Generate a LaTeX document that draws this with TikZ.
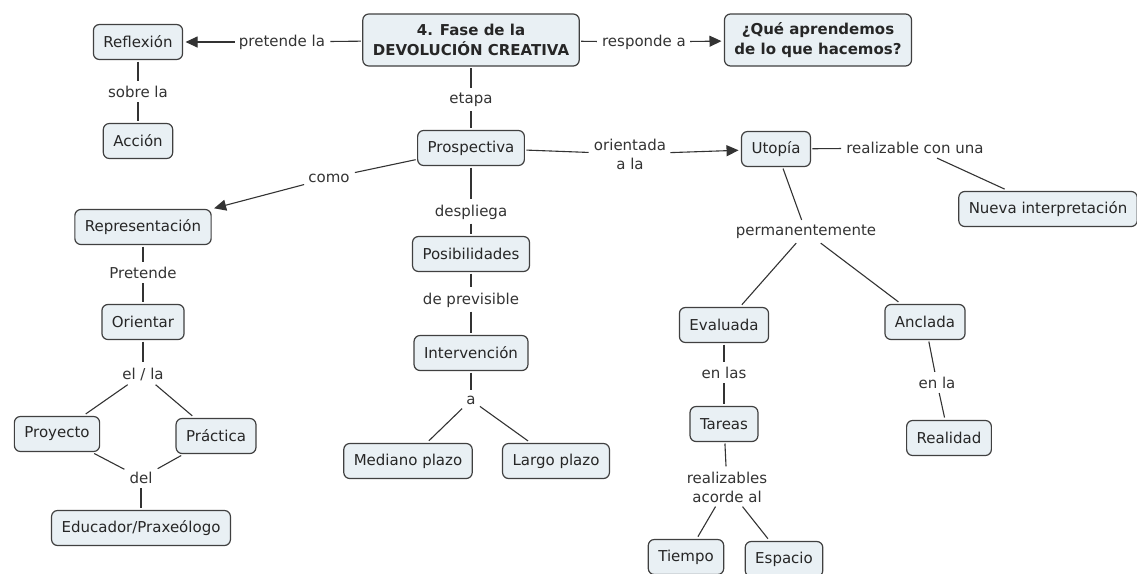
\documentclass[tikz,border=0pt]{standalone}
\usepackage{xcolor}
\usepackage{fontspec}
\setmainfont{DejaVu Sans}
\usepackage{tikz}
\usetikzlibrary{arrows.meta}
\usetikzlibrary{positioning}
\definecolor{conceptfill}{RGB}{233,240,244}

\begin{document}
\begin{tikzpicture}[x=1pt,y=-1pt,>={Triangle[length=12pt,width=11pt]},shorten >=1pt,
                    semithick]
 \tikzstyle{concept}=[draw=black!75, fill=conceptfill, text=black!85, shape=rectangle, rounded corners=6pt, line width=1.2pt, inner xsep=10pt, minimum height=35pt, outer sep=2pt, align=center, font=\fontsize{15}{19}\selectfont]
 \tikzstyle{link}=[text=black!80, inner sep=4pt, align=center, font=\fontsize{15}{19}\selectfont]
 \tikzstyle{every edge}=[draw, black!80, line width=1.1pt]
  \useasboundingbox (0,0) rectangle (1137,573);
  % concepts
  \node[concept] (A) at (471,40) [font=\fontsize{15}{20}\selectfont\bfseries, minimum height=52pt] {4. Fase de la\\DEVOLUCIÓN CREATIVA};
  \node[concept] (B) at (138,42) {Reflexión};
  \node[concept] (C) at (138,141) {Acción};
  \node[concept] (D) at (818,40) [font=\fontsize{15}{20}\selectfont\bfseries, minimum height=52pt] {¿Qué aprendemos\\de lo que hacemos?};
  \node[concept] (E) at (471,148) {Prospectiva};
  \node[concept] (F) at (776,149) {Utopía};
  \node[concept] (G) at (1048,209) {Nueva interpretación};
  \node[concept] (H) at (143,227) {Representación};
  \node[concept] (I) at (143,322) {Orientar};
  \node[concept] (J) at (57,434) {Proyecto};
  \node[concept] (K) at (216,436) {Práctica};
  \node[concept] (L) at (141,528) {Educador/Praxeólogo};
  \node[concept] (M) at (471,254) {Posibilidades};
  \node[concept] (N) at (471,353) {Intervención};
  \node[concept] (O) at (408,461) {Mediano plazo};
  \node[concept] (P) at (556,461) {Largo plazo};
  \node[concept] (Q) at (724,325) {Evaluada};
  \node[concept] (R) at (724,424) {Tareas};
  \node[concept] (S) at (686,557) {Tiempo};
  \node[concept] (T) at (784,559) {Espacio};
  \node[concept] (U) at (925,322) {Anclada};
  \node[concept] (V) at (949,438) {Realidad};
  % linking phrases
  \node[link] (a) at (282,42) {pretende la};
  \node[link] (b) at (644,42) {responde a};
  \node[link] (c) at (138,92) {sobre la};
  \node[link] (d) at (471,100) {etapa};
  \node[link] (e) at (630,154) {orientada\\a la};
  \node[link] (f) at (915,148) {realizable con una};
  \node[link] (g) at (806,232) {permanentemente};
  \node[link] (h) at (329,178) {como};
  \node[link] (i) at (471,212) {despliega};
  \node[link] (j) at (471,300) {de previsible};
  \node[link] (k) at (471,400) {a};
  \node[link] (l) at (143,273) {Pretende};
  \node[link] (m) at (143,374) {el / la};
  \node[link] (n) at (141,478) {del};
  \node[link] (o) at (724,373) {en las};
  \node[link] (p) at (937,383) {en la};
  \node[link] (q) at (727,487) {realizables\\acorde al};
\path (A) edge (a)
      (a) edge[->] (B)
      (A) edge (b)
      (b) edge[->] (D)
      (B) edge (c)
      (c) edge (C)
      (A) edge (d)
      (d) edge (E)
      (E) edge (e)
      (e) edge[->] (F)
      (F) edge (f)
      (f) edge (G)
      (F) edge (g)
      (g) edge (Q)
          edge (U)
      (E) edge (h)
      (h) edge[->] (H)
      (E) edge (i)
      (i) edge (M)
      (M) edge (j)
      (j) edge (N)
      (N) edge (k)
      (k) edge (O)
          edge (P)
      (H) edge (l)
      (l) edge (I)
      (I) edge (m)
      (m) edge (J)
          edge (K)
      (J) edge (n)
      (K) edge (n)
      (n) edge (L)
      (Q) edge (o)
      (o) edge (R)
      (U) edge (p)
      (p) edge (V)
      (R) edge (q)
      (q) edge (S)
          edge (T);
\end{tikzpicture}
\end{document}
